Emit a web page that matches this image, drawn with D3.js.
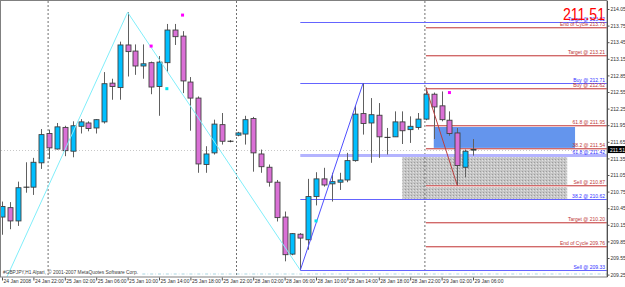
<!DOCTYPE html>
<html>
<head>
<meta charset="utf-8">
<script src="https://cdn.jsdelivr.net/npm/d3@7"></script>
<style>
body { margin:0; background:#ffffff; }
svg { display:block; font-family:"Liberation Sans", Arial, sans-serif; }
.ax text { font-size:5px; fill:#303030; }
.ax line, .ax path { stroke:#505050; }
</style>
</head>
<body>
<svg id="chart" width="625" height="287"></svg>
<script>

// H1 bars, 24 Jan 18:00 -> 29 Jan 06:00
var open_  = [210.29,210.46,210.22,210.83,210.83,211.27,211.80,211.52,211.91,211.48,
              211.93,211.99,211.90,212.01,212.71,212.63,213.40,213.29,213.02,213.08,
              212.65,213.08,213.67,213.56,212.73,212.44,211.24,211.45,211.96,211.66,
              211.77,211.79,212.07,211.43,211.19,210.92,210.29,209.62,209.98,209.88,
              210.66,210.98,210.89,210.92,210.96,211.31,212.16,211.99,212.13,211.73,
              211.74,212.01,211.87,211.91,212.06,212.51,212.30,212.04,211.81,211.19,
              211.50];
var high_  = [210.57,210.56,210.93,211.28,211.36,211.88,211.87,211.99,211.94,212.02,
              212.06,212.02,212.06,212.91,212.79,213.46,213.99,213.41,213.41,213.10,
              213.20,213.78,213.78,213.65,212.82,212.47,211.57,212.05,212.17,211.68,
              211.83,212.12,212.10,211.51,211.24,210.96,210.39,210.00,210.00,210.98,
              211.10,211.18,211.09,211.09,211.45,212.30,212.71,212.44,212.35,211.90,
              212.20,212.20,212.11,212.17,212.63,212.54,212.56,212.20,211.90,211.51,
              211.70];
var low_   = [209.97,210.07,210.13,210.73,210.69,211.16,211.34,211.51,211.39,211.37,
              211.80,211.84,211.80,211.98,212.41,212.41,212.83,212.86,212.79,212.51,
              212.12,212.91,213.40,212.53,211.85,211.09,211.09,211.42,211.60,211.64,
              211.75,211.60,211.11,211.09,210.84,210.21,209.49,209.60,209.33,209.70,
              210.50,210.84,210.57,210.78,210.92,211.29,211.78,211.27,211.36,211.42,
              211.74,211.61,211.63,211.87,212.04,211.70,212.02,211.76,210.86,211.01,
              211.40];
var close_ = [210.48,210.22,210.82,210.83,211.28,211.78,211.54,211.92,211.49,211.94,
              212.01,211.89,212.05,212.70,212.65,213.40,213.28,213.02,213.06,212.64,
              213.09,213.67,213.55,212.75,212.44,211.25,211.43,211.97,211.66,211.66,
              211.81,212.05,211.45,211.20,210.92,210.28,209.61,209.99,209.91,210.66,
              210.98,210.87,210.93,210.96,211.31,212.15,211.98,212.14,211.74,211.73,
              212.01,211.85,211.93,212.06,212.51,212.28,212.05,211.80,211.22,211.48,
              211.51];

var time_idx = [0,4,8,12,16,20,24,28,32,36,40,44,48,52,56,60];
var time_lbl = ["24 Jan 2008","24 Jan 22:00","25 Jan 02:00","25 Jan 06:00","25 Jan 10:00",
                "25 Jan 14:00","25 Jan 18:00","25 Jan 22:00","28 Jan 02:00","28 Jan 06:00",
                "28 Jan 10:00","28 Jan 14:00","28 Jan 18:00","28 Jan 22:00","29 Jan 02:00",
                "29 Jan 06:00"];
var price_ticks = [214.05,213.75,213.45,213.15,212.85,212.55,212.25,211.95,211.65,
                   211.35,211.05,210.75,210.45,210.15,209.85,209.55,209.25];
var sep_idx = [6, 30, 54];   // day separators
var bid = 211.51;

// zigzags
var zz_cyan_idx = [-1, 16, 38], zz_cyan_px = [208.70, 213.99, 209.33];
var zz_blue_idx = [38, 46],     zz_blue_px = [209.33, 212.71];
var zz_red_idx  = [54, 58],     zz_red_px  = [212.63, 210.86];

// arrows
var up_idx = [19, 23, 57], up_px = [213.38, 213.94, 212.54];
var dn_idx = [21, 40],     dn_px = [212.61, 210.22];

// levels
var blue_px  = [213.82, 212.71, 211.42, 210.62, 209.33];
var blue_lbl = ["Target @  213.82","Buy @  212.71","61.8 @ 211.42","38.2 @ 210.62","Sell @  209.33"];
var red_px   = [213.73, 213.21, 212.62, 211.95, 211.54, 210.87, 210.20, 209.76];
var red_lbl  = ["End of Cycle  213.73","Target @  213.21","Buy @  212.62","61.8 @ 211.95",
                "38.2 @ 211.54","Sell @  210.87","Target @  210.20","End of Cycle  209.76"];

// zones [start idx, end idx, top, bottom]
var zone_blue = [55, 73, 211.95, 211.54];
var zone_gray = [51, 72, 211.42, 210.62];

var pl = 1, pr = 607, pt = 1, pb = 277;

var x = d3.scaleLinear().domain([0, 60]).range([2, 473]);
var y = d3.scaleLinear().domain([209.25, 214.05]).range([274.6, 9]);

var svg = d3.select("#chart");
var defs = svg.append("defs");
defs.append("clipPath").attr("id", "clip")
  .append("rect").attr("x", pl).attr("y", pt).attr("width", pr - pl).attr("height", pb - pt);
var pat = defs.append("pattern").attr("id", "dots").attr("patternUnits", "userSpaceOnUse")
  .attr("width", 3).attr("height", 3);
pat.append("rect").attr("width", 3).attr("height", 3).attr("fill", "#c6c6c6");
pat.append("rect").attr("x", 0).attr("y", 0).attr("width", 1).attr("height", 1).attr("fill", "#9c9c9c");
pat.append("rect").attr("x", 2).attr("y", 1).attr("width", 1).attr("height", 1).attr("fill", "#e2e2e2");

var g = svg.append("g").attr("clip-path", "url(#clip)");

// zones
g.append("rect").attr("x", x(zone_gray[0])).attr("y", y(zone_gray[2]))
  .attr("width", x(zone_gray[1]) - x(zone_gray[0])).attr("height", y(zone_gray[3]) - y(zone_gray[2]))
  .attr("fill", "url(#dots)");
g.append("rect").attr("x", x(zone_blue[0])).attr("y", y(zone_blue[2]))
  .attr("width", x(zone_blue[1]) - x(zone_blue[0])).attr("height", y(zone_blue[3]) - y(zone_blue[2]))
  .attr("fill", "#6495ed");

// separators + bid line
sep_idx.forEach(function(i) {
  g.append("line").attr("x1", x(i) - 1).attr("x2", x(i) - 1).attr("y1", pt).attr("y2", pb)
    .attr("stroke", "#707070").attr("stroke-dasharray", "2,2");
});
g.append("line").attr("x1", pl).attr("x2", pr).attr("y1", Math.round(y(bid)) + 0.5).attr("y2", Math.round(y(bid)) + 0.5)
  .attr("stroke", "#c8c8c8").attr("stroke-dasharray", "1,2");

// bottom dotted row
for (var k = 18; k < 78; k++) {
  g.append("rect").attr("x", x(k) - 1).attr("y", 273.5).attr("width", 3).attr("height", 1).attr("fill", "#a9d6e2");
  g.append("rect").attr("x", x(k + 0.5)).attr("y", 273.5).attr("width", 1).attr("height", 1).attr("fill", "#c9e4ea");
}

// level lines (drawn as 1px rects)
blue_px.forEach(function(p, i) {
  var yy = Math.round(y(p));
  var thick = (i == 2);
  g.append("rect").attr("x", x(38)).attr("width", pr - x(38))
    .attr("y", thick ? yy - 1 : yy).attr("height", thick ? 3 : 1)
    .attr("fill", thick ? "#b4b4ff" : "#6464ff");
  g.append("text").attr("x", 605).attr("y", yy - 1).attr("text-anchor", "end")
    .style("font-size", "5px").style("fill", "#3030ff").text(blue_lbl[i]);
});
red_px.forEach(function(p, i) {
  var yy = Math.round(y(p));
  g.append("rect").attr("x", x(54)).attr("width", pr - x(54)).attr("y", yy).attr("height", 1).attr("fill", "#d06a6a");
  g.append("rect").attr("x", x(54)).attr("width", pr - x(54)).attr("y", yy + 1).attr("height", 1).attr("fill", "#f2c4c4");
  g.append("text").attr("x", 605).attr("y", yy - 1).attr("text-anchor", "end")
    .style("font-size", "5px").style("fill", "#c03838").text(red_lbl[i]);
});

// candles
var bw = 5;
for (var i = 0; i < open_.length; i++) {
  var cx = Math.round(x(i)) + 0.5;
  g.append("line").attr("x1", cx).attr("x2", cx).attr("y1", y(high_[i])).attr("y2", y(low_[i]))
    .attr("stroke", "#606060");
  if (open_[i] == close_[i]) {
    g.append("line").attr("x1", cx - 3).attr("x2", cx + 3).attr("y1", y(open_[i])).attr("y2", y(open_[i]))
      .attr("stroke", "#202020");
  } else {
    var ytop = y(Math.max(open_[i], close_[i])), ybot = y(Math.min(open_[i], close_[i]));
    g.append("rect").attr("x", cx - bw / 2).attr("y", ytop).attr("width", bw).attr("height", Math.max(ybot - ytop, 0.5))
      .attr("fill", close_[i] > open_[i] ? "#00bfff" : "#da70d6").attr("stroke", "#404040").attr("stroke-width", 0.9);
  }
}

// zigzags
function zz(idx, px, col) {
  var pts = idx.map(function(d, j) { return [x(d), y(px[j])]; });
  g.append("path").attr("d", d3.line()(pts)).attr("fill", "none").attr("stroke", col).attr("stroke-width", 1);
}
zz(zz_cyan_idx, zz_cyan_px, "#80eefa");
zz(zz_blue_idx, zz_blue_px, "#5050ff");
zz(zz_red_idx, zz_red_px, "#b84040");

// arrows
up_idx.forEach(function(d, j) {
  g.append("rect").attr("x", x(d) - 1.5).attr("y", y(up_px[j]) - 1.5).attr("width", 3).attr("height", 3).attr("fill", "#ff00ff");
});
dn_idx.forEach(function(d, j) {
  g.append("rect").attr("x", x(d) - 1.5).attr("y", y(dn_px[j]) - 1.5).attr("width", 3).attr("height", 3).attr("fill", "#00e5ee");
});

// copyright
svg.append("text").attr("x", 3).attr("y", 274).style("font-size", "5px").style("fill", "#404040")
  .attr("textLength", 43).attr("lengthAdjust", "spacingAndGlyphs").text("#GBPJPY,H1 Alpari,");
svg.append("text").attr("x", 48).attr("y", 274).style("font-size", "5px").style("fill", "#404040")
  .attr("textLength", 90).attr("lengthAdjust", "spacingAndGlyphs").text("© 2001-2007 MetaQuotes Software Corp.");

// frame
svg.append("rect").attr("x", 0.5).attr("y", 0.5).attr("width", pr - 0.5).attr("height", pb - 0.5)
  .attr("fill", "none").attr("stroke", "#808080");

// price axis
svg.append("g").attr("class", "ax").attr("transform", "translate(" + (pr + 0.5) + ",0)")
  .call(d3.axisRight(y).tickValues(price_ticks).tickSize(2).tickPadding(1).tickFormat(d3.format(".2f")))
  .call(function(a) { a.select(".domain").attr("d", "M0," + pt + "V" + pb); });

// time axis
var xa = svg.append("g").attr("class", "ax").attr("transform", "translate(0," + (pb + 0.5) + ")")
  .call(d3.axisBottom(x).tickValues(time_idx).tickSize(3).tickFormat(function(d, i) { return time_lbl[i]; }));
xa.select(".domain").remove();
xa.selectAll("text").attr("text-anchor", "start").attr("x", 1).attr("dy", "0.5em").attr("y", 3);

// current price marker
svg.append("rect").attr("x", pr + 1).attr("y", y(bid) - 3.5).attr("width", 17).attr("height", 7).attr("fill", "#000");
svg.append("text").attr("x", pr + 3).attr("y", y(bid) + 2).style("font-size", "5px").style("fill", "#fff")
  .text(d3.format(".2f")(bid));

// big price
svg.append("text").attr("x", 563).attr("y", 20)
  .style("font-family", "'Liberation Sans Narrow', 'Liberation Sans', Arial, sans-serif")
  .style("font-size", "17px").style("fill", "#ff0000")
  .attr("textLength", 42).attr("lengthAdjust", "spacingAndGlyphs").text(d3.format(".2f")(bid));

</script>
</body>
</html>
